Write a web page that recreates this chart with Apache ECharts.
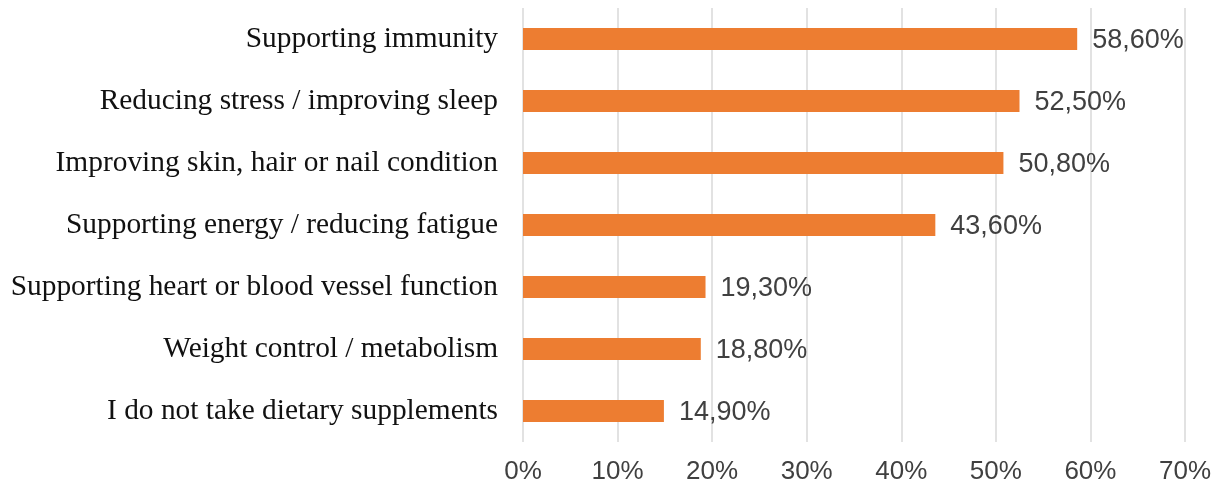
<!DOCTYPE html>
<html>
<head>
<meta charset="utf-8">
<script src="https://cdn.jsdelivr.net/npm/echarts@6/dist/echarts.min.js"></script>
<style>
  html, body { margin: 0; padding: 0; background: #ffffff; }
  #chart { width: 1229px; height: 490px; }
</style>
</head>
<body>
<div id="chart"></div>
<script>
// Reasons for taking dietary supplements (share of respondents, %)
const categories = [
  'Supporting immunity',
  'Reducing stress / improving sleep',
  'Improving skin, hair or nail condition',
  'Supporting energy / reducing fatigue',
  'Supporting heart or blood vessel function',
  'Weight control / metabolism',
  'I do not take dietary supplements'
];
const shares = [58.6, 52.5, 50.8, 43.6, 19.3, 18.8, 14.9];
const axisTicks = [0, 10, 20, 30, 40, 50, 60, 70];

const fmtPct = v => v.toFixed(2).replace('.', ',') + '%';

const chart = echarts.init(document.getElementById('chart'), null, { renderer: 'canvas' });
chart.setOption({
  animation: false,
  backgroundColor: '#ffffff',
  grid: { left: 523, right: 44, top: 8, bottom: 48, containLabel: false },
  xAxis: {
    type: 'value',
    min: axisTicks[0],
    max: axisTicks[axisTicks.length - 1],
    interval: axisTicks[1] - axisTicks[0],
    axisLine: { show: false },
    axisTick: { show: false },
    splitLine: { show: true, lineStyle: { color: '#d9d9d9', width: 1.5 } },
    axisLabel: {
      formatter: '{value}%',
      margin: 17,
      color: '#404040',
      fontFamily: 'Liberation Sans, Arial, sans-serif',
      fontSize: 26
    }
  },
  yAxis: {
    type: 'category',
    inverse: true,
    data: categories,
    axisLine: { show: false },
    axisTick: { show: false },
    splitLine: { show: false },
    axisLabel: {
      margin: 25,
      color: '#111111',
      fontFamily: 'Liberation Serif, Times New Roman, serif',
      fontSize: 29.4
    }
  },
  series: [{
    type: 'bar',
    data: shares,
    barWidth: 22,
    itemStyle: { color: '#ed7d31' },
    label: {
      show: true,
      position: 'right',
      distance: 15,
      offset: [0, 2],
      formatter: p => fmtPct(p.value),
      color: '#404040',
      fontFamily: 'Liberation Sans, Arial, sans-serif',
      fontSize: 27
    }
  }]
});
</script>
</body>
</html>
